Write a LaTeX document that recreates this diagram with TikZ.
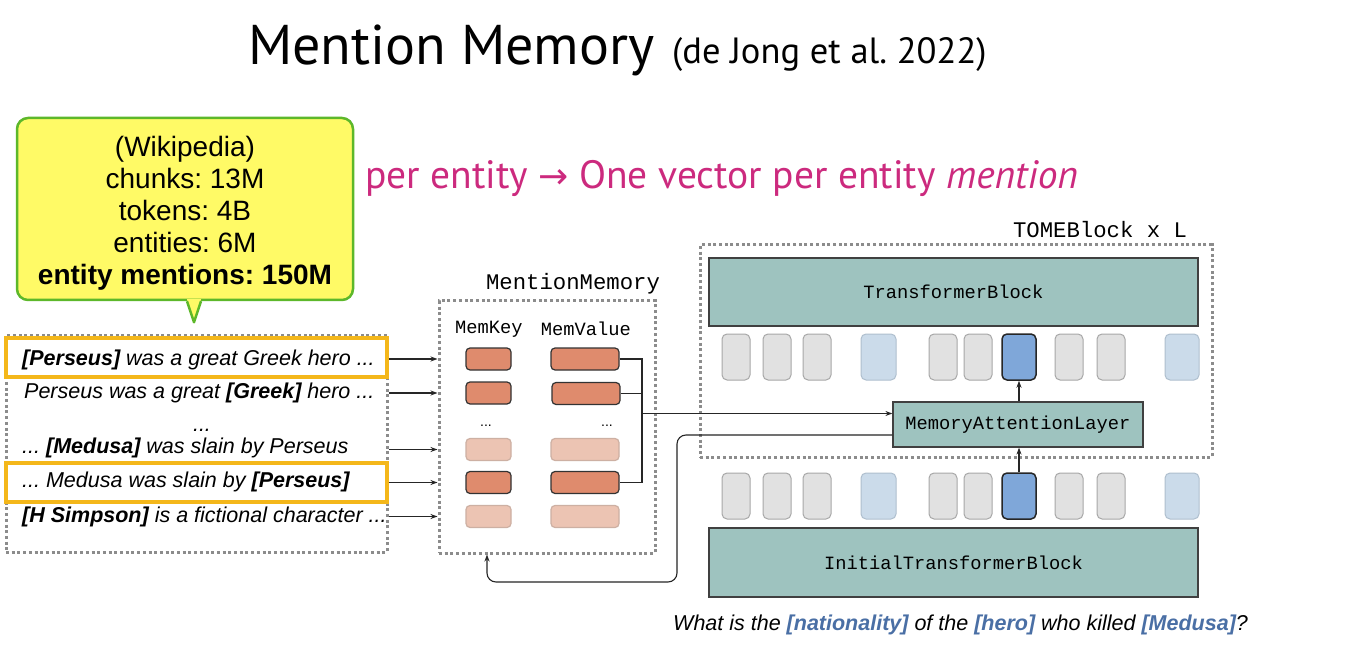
\documentclass[tikz,border=0pt]{standalone}
\usepackage{fontspec}
\setmainfont{Liberation Sans}
\newfontfamily\monofont{Liberation Mono}
\newfontfamily\headfont{PT Sans}
\newfontfamily\symfont{DejaVu Sans}
\usetikzlibrary{arrows.meta,calc}
\frenchspacing

\definecolor{tealfill}{HTML}{9EC3BF}
\definecolor{keydark}{HTML}{DF8B6D}
\definecolor{keylight}{HTML}{ECC4B3}
\definecolor{keylightline}{HTML}{CDB0A3}
\definecolor{tokgray}{HTML}{E1E1E1}
\definecolor{tokgrayline}{HTML}{A8A8A8}
\definecolor{toklight}{HTML}{CBDBEA}
\definecolor{toklightline}{HTML}{AFBFCE}
\definecolor{tokdark}{HTML}{7FA7D9}
\definecolor{tokdarkline}{HTML}{262626}
\definecolor{dotgray}{HTML}{8C8C8C}
\definecolor{hlorange}{HTML}{F4B71A}
\definecolor{calloutfill}{HTML}{FFFA66}
\definecolor{calloutline}{HTML}{5DB82A}
\definecolor{pinktext}{HTML}{CC2A7E}
\definecolor{qblue}{HTML}{4A6FA5}

\tikzset{
  dotbox/.style={draw=dotgray, line width=3pt, dash pattern=on 3pt off 2.7pt, inner sep=0pt},
  hlbox/.style={draw=hlorange, line width=3.5pt, inner sep=0pt},
  memcell/.style={rounded corners=4pt, minimum height=22pt, inner sep=0pt, line width=1.2pt},
  keyd/.style={memcell, fill=keydark, draw=black!80, minimum width=45pt},
  keyl/.style={memcell, fill=keylight, draw=keylightline, minimum width=45pt},
  vald/.style={memcell, fill=keydark, draw=black!80, minimum width=68pt},
  vall/.style={memcell, fill=keylight, draw=keylightline, minimum width=68pt},
  tok/.style={rounded corners=5pt, minimum height=46pt, inner sep=0pt},
  tblock/.style={fill=tealfill, draw=black!75, line width=1.2pt, inner sep=0pt,
    font=\monofont\fontsize{18.75}{20}\selectfont},
  monolabel/.style={inner sep=0pt, font=\monofont\fontsize{18.75}{20}\selectfont},
  biglabel/.style={inner sep=0pt, font=\monofont\fontsize{22.3}{24}\selectfont},
  sentence/.style={anchor=west, inner sep=0pt, font=\fontsize{21.5}{24}\selectfont\itshape},
  wire/.style={line width=1.1pt, draw=black!85},
  arr/.style={wire, -{Stealth[length=7pt,width=5pt]}},
  callout/.style={draw=calloutline, fill=calloutfill, line width=2.5pt, rounded corners=11pt,
    inner sep=0pt},
  callouttext/.style={align=center, inner sep=0pt, font=\fontsize{28}{32}\selectfont},
}

\begin{document}
\begin{tikzpicture}[x=1pt,y=-1pt]
\useasboundingbox[fill=white] (0,0) rectangle (1353,655);

% heading
\node[anchor=base west, inner sep=0pt, font=\headfont\fontsize{56}{60}\selectfont] (title) at (248,65) {Mention Memory};
\node[anchor=base west, inner sep=0pt, font=\headfont\fontsize{36.5}{40}\selectfont] (cite) at (672,64) {(de Jong et al. 2022)};
\node[anchor=base west, inner sep=0pt, text=pinktext, font=\headfont\fontsize{39.5}{42}\selectfont] (claim) at (365,189)
  {per entity {\symfont\fontsize{36}{40}\selectfont →} One vector per entity \textit{mention}};

% corpus statistics callout
\node[callout, minimum width=336pt, minimum height=182pt] (note) at (185,209) {};
\node[callouttext] (notetext) at (185,213)
  {(Wikipedia)\\chunks: 13M\\tokens: 4B\\entities: 6M\\\textbf{entity mentions: 150M}};
\coordinate (tip) at ($(note.south)+(9,21)$);
\fill[calloutfill] ($(note.south)+(2,-2)$) -- (tip) -- ($(note.south)+(16,-2)$) -- cycle;
\draw[calloutline, line width=2.5pt, line join=round] ($(note.south)+(2,0)$) -- (tip) -- ($(note.south)+(16,0)$);

% corpus passages
\node[dotbox, minimum width=381pt, minimum height=217pt] (corpus) at (196.5,443.5) {};
\node[hlbox, minimum width=381pt, minimum height=39pt] (hl1) at (196.5,357.5) {};
\node[hlbox, minimum width=381pt, minimum height=39pt] (hl2) at (196.5,482.5) {};
\node[sentence] (s1) at (22,360) {\textbf{[Perseus]} was a great Greek hero ...};
\node[sentence] (s2) at (24,393) {Perseus was a great \textbf{[Greek]} hero ...};
\node[anchor=base, inner sep=0pt, font=\fontsize{21.5}{24}\selectfont\itshape] (s3) at (202,431) {...};
\node[sentence] (s4) at (22,448) {... \textbf{[Medusa]} was slain by Perseus};
\node[sentence] (s5) at (22,482) {... Medusa was slain by \textbf{[Perseus]}};
\node[sentence] (s6) at (22,517) {\textbf{[H Simpson]} is a fictional character ...};

% mention memory
\node[dotbox, minimum width=216pt, minimum height=252pt] (mm) at (547,427) {};
\node[biglabel] (mmlabel) at (573,284) {MentionMemory};
\node[monolabel] (memkey) at (489,329) {MemKey};
\node[monolabel] (memval) at (586,329) {MemValue};
\node[keyd] (k1) at (488.5,359) {};
\node[keyd] (k2) at (488.5,393) {};
\node[keyl] (k3) at (488.5,449.5) {};
\node[keyd] (k4) at (488.5,482.5) {};
\node[keyl] (k5) at (488.5,516.5) {};
\node[vald] (v1) at (585,359) {};
\node[vald] (v2) at (586,393.5) {};
\node[vall] (v3) at (585,449.5) {};
\node[vald] (v4) at (585,482.5) {};
\node[vall] (v5) at (585,516.5) {};
\node[anchor=base, inner sep=0pt, font=\fontsize{14}{15}\selectfont] (kdots) at (486,426) {...};
\node[anchor=base, inner sep=0pt, font=\fontsize{14}{15}\selectfont] (vdots) at (607,426) {...};

% passages feed the memory keys
\foreach \k in {k1,k2,k3,k4,k5}
  \draw[arr] (corpus.east |- \k) -- (mm.west |- \k);

% TOME block
\node[dotbox, minimum width=512pt, minimum height=212pt] (tome) at (956,351) {};
\node[biglabel] (tomelabel) at (1100,230) {TOMEBlock x L};
\node[tblock, minimum width=489pt, minimum height=68pt] (tb) at (953.5,292) {TransformerBlock};
\node[tblock, minimum width=250pt, minimum height=45pt] (mal) at (1018,424.5) {MemoryAttentionLayer};
\node[tblock, minimum width=489pt, minimum height=69pt] (itb) at (953.5,562.5) {InitialTransformerBlock};

% token representations above and below the memory layer
\foreach \x/\f/\d/\w/\lw [count=\i] in {
    736/tokgray/tokgrayline/28/1,
    777/tokgray/tokgrayline/28/1,
    817/tokgray/tokgrayline/28/1,
    878.5/toklight/toklightline/35/1,
    943/tokgray/tokgrayline/28/1,
    978/tokgray/tokgrayline/28/1,
    1019/tokdark/tokdarkline/34/1.5,
    1069/tokgray/tokgrayline/28/1,
    1111/tokgray/tokgrayline/28/1,
    1182/toklight/toklightline/34/1} {
  \node[tok, fill=\f, draw=\d, line width=\lw pt, minimum width=\w pt] (tt\i) at (\x,357) {};
  \node[tok, fill=\f, draw=\d, line width=\lw pt, minimum width=\w pt] (bt\i) at (\x,496) {};
}

% memory values gathered into the attention layer
\coordinate (bus) at (642,0);
\draw[wire] (v1.east) -- (v1.east -| bus) -- (v4.east -| bus) -- (v4.east);
\draw[wire] (v2.east) -- (v2.east -| bus);
\coordinate (malin) at ($(mal.west)+(0,-11)$);
\draw[arr] (bus |- malin) -- (malin);

% attention layer writes back into the memory
\coordinate (malout) at ($(mal.west)+(0,10.5)$);
\coordinate (turn) at (677,582);
\coordinate (mmin) at (487,0);
\draw[arr, rounded corners=9pt] (malout) -| (turn) -| (mmin |- mm.south);

% token flow through the attention layer
\draw[arr] (bt7.north) -- (bt7.north |- mal.south);
\draw[arr] (mal.north -| tt7.south) -- (tt7.south);

% query
\node[anchor=base west, inner sep=0pt, font=\fontsize{21.5}{24}\selectfont\itshape] (query) at (673,630)
  {What is the \textcolor{qblue}{\textbf{[nationality]}} of the \textcolor{qblue}{\textbf{[hero]}} who killed \textcolor{qblue}{\textbf{[Medusa]}}?};
\end{tikzpicture}
\end{document}
